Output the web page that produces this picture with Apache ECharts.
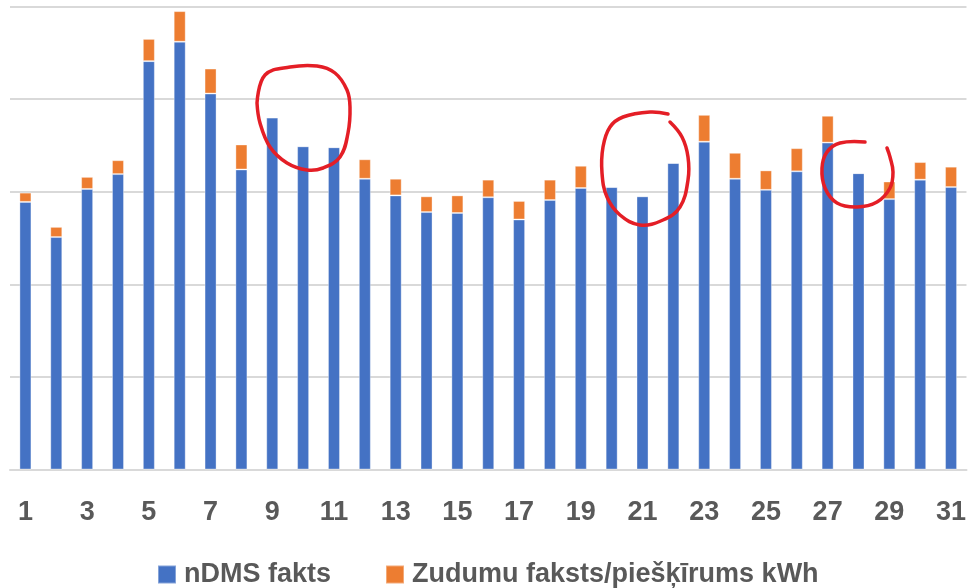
<!DOCTYPE html>
<html>
<head>
<meta charset="utf-8">
<script src="https://cdn.jsdelivr.net/npm/echarts@6/dist/echarts.min.js"></script>
<style>
html,body{margin:0;padding:0;background:#fff;}
#chart{width:969px;height:588px;}
</style>
</head>
<body>
<div id="chart"></div>
<script>
var categories = ['1','2','3','4','5','6','7','8','9','10','11','12','13','14','15','16','17','18','19','20','21','22','23','24','25','26','27','28','29','30','31'];
var nDMSFakts = [289,251,303,319,441,462,406,324,380,349,348,314,296,278,277,294,270,291,304,305,295,331,354,314,302,322,353,320,292,313,305];
var zudumi = [10,11,13,15,24,33,27,27,0,0,0,21,18,17,19,19,20,22,24,0,0,0,29,28,21,25,29,0,19,19,22];
var seriesNames = ['nDMS fakts', 'Zudumu faksts/piešķīrums kWh'];

// hand-drawn red annotation outlines (pixel points)
var ring1 = [[257,103],[265,75],[290,67],[317,66],[335,73],[347,90],[350,107],[348,133],[340,157],[323,168],[307,170],[287,163],[270,147],[260,123],[257,103]];
var ring2 = [[668,114],[650,112],[623,117],[610,127],[603,147],[602,173],[607,197],[620,215],[640,225],[663,220],[680,207],[688,180],[688,157],[682,137],[670,122]];
var ring3 = [[865,142],[840,143],[827,152],[822,168],[825,188],[837,203],[857,207],[877,202],[890,188],[893,172],[890,157],[887,148]];

var chart = echarts.init(document.getElementById('chart'), null, {renderer:'canvas'});
var font = 'Liberation Sans, Arial, sans-serif';
chart.setOption({
  animation:false,
  backgroundColor:'#ffffff',
  grid:{left:10, right:-2, top:6.5, bottom:118.5, containLabel:false},
  legend:{
    data:seriesNames,
    left:157, top:561, padding:0,
    icon:'rect', itemWidth:18, itemHeight:18, itemGap:54,
    textStyle:{fontSize:27, fontWeight:'bold', color:'#595959', fontFamily:font, padding:[0,0,0,3]}
  },
  xAxis:{
    type:'category', data:categories,
    axisLine:{show:true, lineStyle:{color:'#d9d9d9', width:2}},
    axisTick:{show:false},
    axisLabel:{interval:1, fontSize:27, fontWeight:'bold', color:'#595959', fontFamily:font, margin:30}
  },
  yAxis:{
    type:'value', min:0, max:500, interval:100,
    axisLabel:{show:false}, axisLine:{show:false}, axisTick:{show:false},
    splitLine:{lineStyle:{color:'#d9d9d9', width:2}}
  },
  series:[
    {name:seriesNames[0], type:'bar', stack:'t', data:nDMSFakts, barWidth:12,
     itemStyle:{color:'#4472C4', borderColor:'rgba(255,255,255,0.35)', borderWidth:1}},
    {name:seriesNames[1], type:'bar', stack:'t', data:zudumi, barWidth:12,
     itemStyle:{color:'#ED7D31', borderColor:'rgba(255,255,255,0.35)', borderWidth:1}}
  ],
  graphic:[ring1, ring2, ring3].map(function(p){
    return {type:'polyline', z:100, shape:{points:p, smooth:0.4},
            style:{stroke:'#E41E26', lineWidth:3.5, fill:null, lineCap:'round', lineJoin:'round'}};
  })
});
</script>
</body>
</html>
